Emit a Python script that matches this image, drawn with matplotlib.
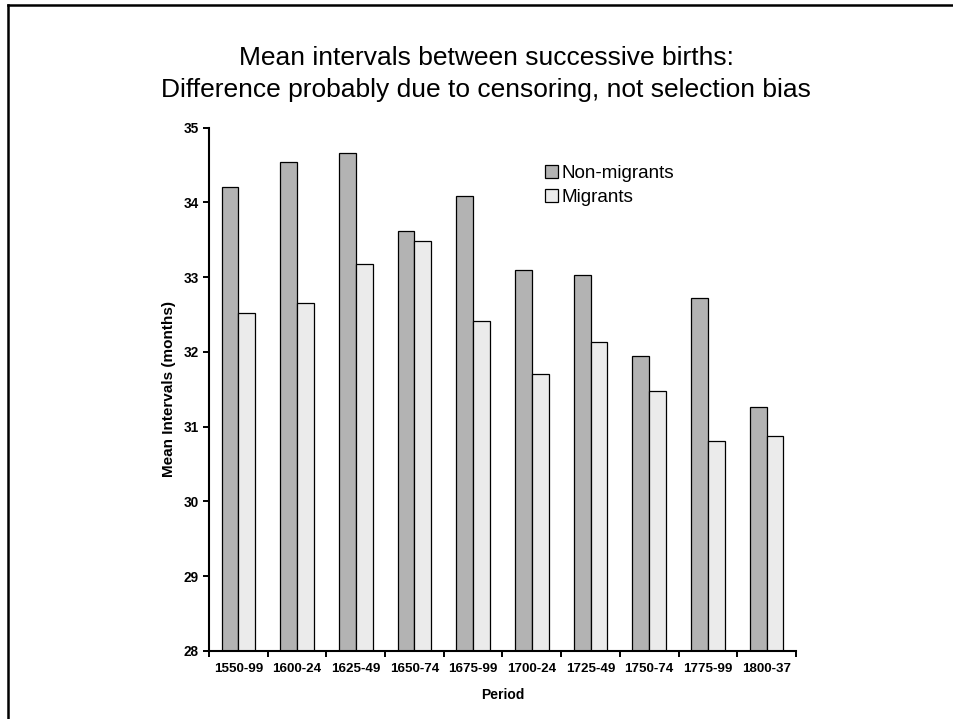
import numpy as np
import matplotlib
matplotlib.use("Agg")
import matplotlib.pyplot as plt
from matplotlib.lines import Line2D

plt.rcParams["font.family"] = ["Liberation Sans", "DejaVu Sans"]

# mean birth intervals (months) per period
periods = ["1550-99", "1600-24", "1625-49", "1650-74", "1675-99",
           "1700-24", "1725-49", "1750-74", "1775-99", "1800-37"]
non_migrants = [34.20, 34.54, 34.66, 33.62, 34.09, 33.10, 33.03, 31.94, 32.72, 31.26]
migrants = [32.52, 32.65, 33.17, 33.48, 32.42, 31.71, 32.13, 31.48, 30.81, 30.88]

W, H = 954, 719
fig = plt.figure(figsize=(W / 100, H / 100), dpi=100)
ax = fig.add_axes([209 / W, 1 - 651 / H, (796 - 209) / W, (651 - 127.6) / H])

x = np.arange(len(periods))
bw = 1 / 3.5  # gap width 150%
ax.bar(x - bw / 2, non_migrants, width=bw, color="#b3b3b3", edgecolor="black",
       linewidth=0.9, label="Non-migrants")
ax.bar(x + bw / 2, migrants, width=bw, color="#ebebeb", edgecolor="black",
       linewidth=0.9, label="Migrants")

ax.set_xlim(-0.5, len(periods) - 0.5)
ax.set_ylim(28, 35)
ax.set_yticks(range(28, 36))
ax.set_xticks(x)
ax.set_xticklabels(periods, fontweight="bold", fontsize=9.6)
ax.set_xticks(np.arange(-0.5, len(periods)), minor=True)
ax.tick_params(axis="x", which="major", length=0, pad=9)
ax.tick_params(axis="x", which="minor", length=4.5, width=1.4, direction="out")
ax.tick_params(axis="y", length=4.5, width=1.4, direction="out", pad=3, labelsize=9.8)
for lab in ax.get_yticklabels():
    lab.set_fontweight("bold")

for s in ["top", "right"]:
    ax.spines[s].set_visible(False)
for s in ["left", "bottom"]:
    ax.spines[s].set_linewidth(1.5)

ax.set_xlabel("Period", fontweight="bold", fontsize=10)
ax.xaxis.set_label_coords(0.5, -0.07)
ax.set_ylabel("Mean Intervals (months)", fontweight="bold", fontsize=11)
ax.yaxis.set_label_coords(-0.056, 0.5)

ax.legend(loc="upper left", bbox_to_anchor=(545 / W, 1 - 165 / H),
          bbox_transform=fig.transFigure, frameon=False, fontsize=13.6,
          handlelength=0.7, handleheight=0.7, handletextpad=0.15,
          borderpad=0, borderaxespad=0, labelspacing=0.35)

fig.text(486 / W, 1 - 65 / H, "Mean intervals between successive births:",
         ha="center", va="baseline", fontsize=19)
fig.text(486 / W, 1 - 97 / H, "Difference probably due to censoring, not selection bias",
         ha="center", va="baseline", fontsize=19)

# slide frame
fig.add_artist(Line2D([8 / W, 8 / W], [0, 1 - 5 / H], color="black", linewidth=1.8,
                      transform=fig.transFigure))
fig.add_artist(Line2D([8 / W, 1], [1 - 5 / H, 1 - 5 / H], color="black", linewidth=1.8,
                      transform=fig.transFigure))

fig.savefig("out.png", dpi=100)
